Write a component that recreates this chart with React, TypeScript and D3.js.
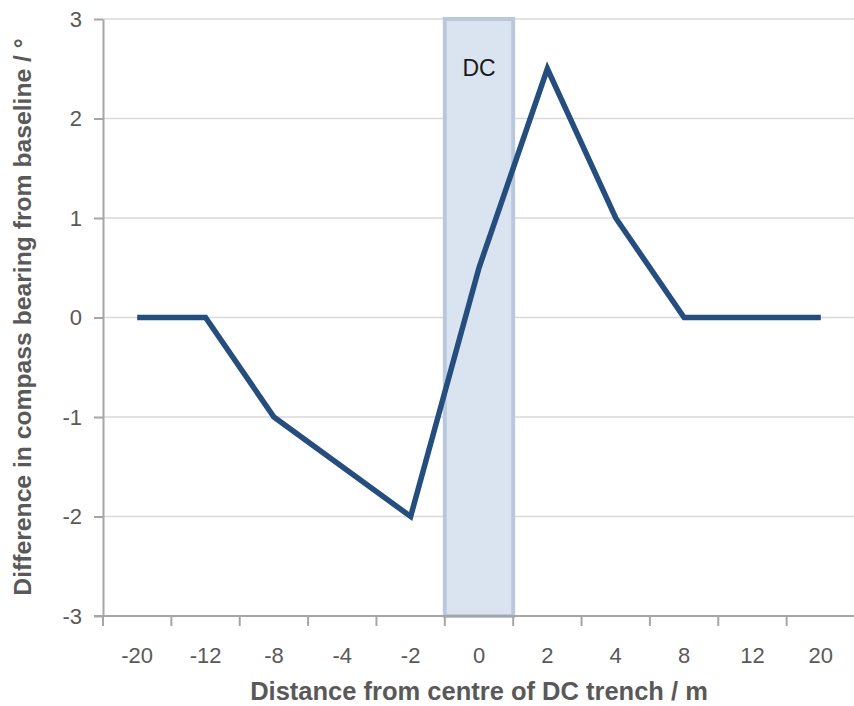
import * as d3 from 'd3';
import React, { useEffect, useRef } from 'react';

// distance categories (m) and bearing differences (degrees)
const distances = ['-20', '-12', '-8', '-4', '-2', '0', '2', '4', '8', '12', '20'];
const bearingDiff = [0, 0, -1, -1.5, -2, 0.5, 2.5, 1, 0, 0, 0];
const yTicks = [-3, -2, -1, 0, 1, 2, 3];
const dcCategory = '0';
const dcLabel = 'DC';

const App = () => {
    const ref = useRef(null);
    const svgWidth = 854;
    const svgHeight = 706;
    const margin = { top: 19, right: -1, bottom: 90, left: 103 };
    const width = svgWidth - margin.left - margin.right;
    const height = svgHeight - margin.top - margin.bottom;
    const font = '"Liberation Sans", Arial, sans-serif';
    const textColor = '#595959';

    useEffect(() => {
        d3.select(ref.current).selectAll('*').remove();
        const svg = d3.select(ref.current)
            .append('svg')
            .attr('width', svgWidth)
            .attr('height', svgHeight)
            .style('display', 'block');

        const g = svg.append('g')
            .attr('transform', `translate(${margin.left},${margin.top})`);

        const x = d3.scaleBand().domain(distances).range([0, width]);
        const y = d3.scaleLinear().domain([-3, 3]).range([height, 0]);

        // gridlines
        g.selectAll('.grid')
            .data(yTicks.filter(t => t > -3))
            .enter().append('line')
            .attr('x1', 0).attr('x2', width)
            .attr('y1', d => y(d)).attr('y2', d => y(d))
            .attr('stroke', '#d9d9d9')
            .attr('stroke-width', 1.5);

        // DC trench band
        g.append('rect')
            .attr('x', x(dcCategory))
            .attr('y', y(3))
            .attr('width', x.bandwidth())
            .attr('height', y(-3) - y(3))
            .attr('fill', '#dae3f0')
            .attr('stroke', '#b9c8dc')
            .attr('stroke-width', 4);

        g.append('text')
            .attr('x', x(dcCategory) + x.bandwidth() / 2)
            .attr('y', y(2.43))
            .attr('text-anchor', 'middle')
            .style('font-family', font)
            .style('font-size', '23px')
            .attr('fill', '#1a1a1a')
            .text(dcLabel);

        // y axis
        const yAxis = g.append('g')
            .call(d3.axisLeft(y).tickValues(yTicks).tickFormat(d => String(d))
                .tickSize(9).tickSizeOuter(0).tickPadding(12));
        yAxis.select('.domain').attr('stroke', '#a6a6a6').attr('stroke-width', 2);
        yAxis.selectAll('.tick line').attr('stroke', '#a6a6a6').attr('stroke-width', 2);
        yAxis.selectAll('text')
            .style('font-family', font)
            .style('font-size', '22px')
            .attr('fill', textColor);

        // x axis, ticks on category boundaries
        const xAxisG = g.append('g').attr('transform', `translate(0,${height})`);
        xAxisG.append('line')
            .attr('x1', -9).attr('x2', width)
            .attr('stroke', '#a6a6a6').attr('stroke-width', 2);
        const bounds = distances.map(d => x(d)).concat([width]);
        xAxisG.selectAll('.xt')
            .data(bounds)
            .enter().append('line')
            .attr('x1', d => d).attr('x2', d => d)
            .attr('y1', 0).attr('y2', 10)
            .attr('stroke', '#a6a6a6').attr('stroke-width', 2);
        xAxisG.selectAll('.xl')
            .data(distances)
            .enter().append('text')
            .attr('x', d => x(d) + x.bandwidth() / 2)
            .attr('y', 47)
            .attr('text-anchor', 'middle')
            .style('font-family', font)
            .style('font-size', '22px')
            .attr('fill', textColor)
            .text(d => d);

        // line
        const line = d3.line()
            .x((d, i) => x(distances[i]) + x.bandwidth() / 2)
            .y(d => y(d));
        g.append('path')
            .datum(bearingDiff)
            .attr('fill', 'none')
            .attr('stroke', '#254e7f')
            .attr('stroke-width', 5.5)
            .attr('stroke-linejoin', 'miter')
            .attr('d', line);

        // axis titles
        svg.append('text')
            .attr('x', 479)
            .attr('y', 700)
            .attr('text-anchor', 'middle')
            .style('font-family', font)
            .style('font-size', '25.5px')
            .style('font-weight', 'bold')
            .attr('fill', textColor)
            .text('Distance from centre of DC trench / m');

        svg.append('text')
            .attr('transform', 'rotate(-90)')
            .attr('x', -317)
            .attr('y', 31)
            .attr('text-anchor', 'middle')
            .style('font-family', font)
            .style('font-size', '24.7px')
            .style('font-weight', 'bold')
            .attr('fill', textColor)
            .text('Difference in compass bearing from baseline / °');
    }, []);

    return <div ref={ref} style={{ position: 'absolute', top: 0, left: 0 }}></div>;
};

export default App;
